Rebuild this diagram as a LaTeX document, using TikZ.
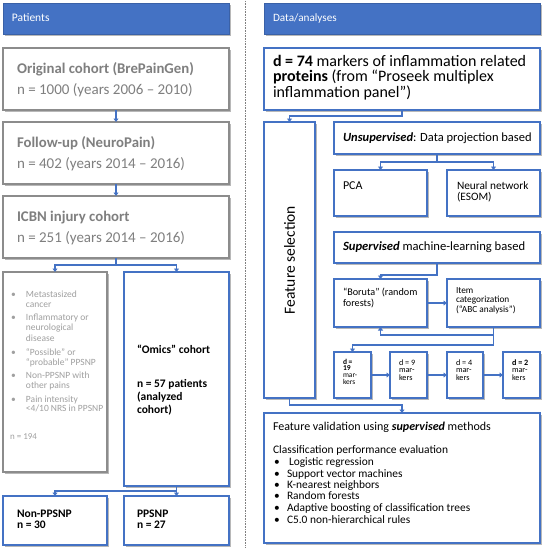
\documentclass[tikz,border=0pt]{standalone}
\usepackage{fontspec}
\setmainfont{Carlito}
\usetikzlibrary{arrows.meta,shadows,calc}
\definecolor{bl}{HTML}{4472C4}
\definecolor{gbord}{HTML}{8C8C8C}
\definecolor{gtxt}{HTML}{7F7F7F}
\definecolor{ltxt}{HTML}{A0A0A0}
\newcommand\mkbox[6]{\node[#2, minimum width={(#5-#3)*1pt}, minimum height={(#6-#4)*1pt}] (#1) at ({(#3+#5)/2},{(#4+#6)/2}) {};}
\newcommand\fsz[2]{\fontsize{#1}{#2}\selectfont}
\newcommand\tl[5]{\node[txt,font=#4] (#1) at (#2,#3) {#5};}
\tikzset{
  shbox/.style={fill=white, line width=1.1pt, inner sep=0pt, outer sep=0pt,
    drop shadow={shadow xshift=1.6pt, shadow yshift=-1.6pt, fill=black, opacity=0.28}},
  bbox/.style={shbox, draw=bl},
  gbox/.style={shbox, draw=gbord},
  hdr/.style={shbox, fill=bl, draw=bl!85!black, line width=0.6pt},
  txt/.style={inner sep=0pt, outer sep=0pt, anchor=base west},
  ln/.style={bl, line width=1.1pt},
  arr/.style={ln, -{Triangle[width=5pt,length=3.5pt]}},
  ttl/.style={font=\fsz{14.8}{17}\bfseries\color{gtxt}},
  ttn/.style={font=\fsz{15}{17}\color{gtxt}},
  exl/.style={font=\fsz{9.5}{10}\color{ltxt}},
  omx/.style={font=\fsz{11.5}{13}\bfseries},
  fvb/.style={font=\fsz{11.4}{13}},
  dsm/.style={font=\fsz{7.5}{7}},
  dmd/.style={font=\fsz{8.2}{8}},
  itx/.style={font=\fsz{9.3}{10}},
}
\begin{document}
\begin{tikzpicture}[x=1pt,y=-1pt]
\useasboundingbox (0,0) rectangle (545,550);
\draw[densely dotted, gray, line width=0.6pt] (245,1) -- (245,547);
% headers
\mkbox{hdrL}{hdr}{3}{3}{229}{34}
\mkbox{hdrR}{hdr}{264}{3}{540}{34}
\tl{hP}{12}{21}{\fsz{11.5}{13}\color{white}}{Patients}
\tl{hD}{273}{21}{\fsz{11.2}{13}\color{white}}{Data/analyses}
% left boxes
\mkbox{orig}{gbox}{3}{48}{229}{110}
\mkbox{follow}{gbox}{3}{122}{229}{184}
\mkbox{icbn}{gbox}{3}{196}{229}{258}
\mkbox{excl}{gbox}{3}{272}{107}{472}
\mkbox{omics}{bbox}{124}{272}{229}{486}
\mkbox{nonp}{bbox}{3}{496}{107}{545}
\mkbox{pps}{bbox}{124}{496}{229}{545}
% right boxes
\mkbox{d74}{bbox}{264}{48}{540}{110}
\mkbox{fs}{bbox}{264}{122}{315}{398}
\mkbox{unsup}{bbox}{334}{122}{540}{154}
\mkbox{pca}{bbox}{334}{170}{427}{216}
\mkbox{nn}{bbox}{447}{170}{540}{216}
\mkbox{sup}{bbox}{334}{232}{540}{263}
\mkbox{bor}{bbox}{334}{279}{427}{327}
\mkbox{item}{bbox}{447}{279}{540}{327}
\mkbox{d19}{bbox}{334}{352}{371}{398}
\mkbox{d9}{bbox}{390}{352}{427}{398}
\mkbox{d4}{bbox}{447}{352}{483}{398}
\mkbox{d2}{bbox}{503}{352}{540}{398}
\mkbox{fv}{bbox}{264}{413}{540}{543}
% left texts
\node[txt,ttl] (o1) at (17,73) {Original cohort (BrePainGen)};
\node[txt,ttn] (o2) at (17,94) {n = 1000 (years 2006 – 2010)};
\node[txt,ttl] (f1) at (17,147) {Follow-up (NeuroPain)};
\node[txt,ttn] (f2) at (17,168) {n = 402 (years 2014 – 2016)};
\node[txt,ttl] (i1) at (17,221) {ICBN injury cohort};
\node[txt,ttn] (i2) at (17,242) {n = 251 (years 2014 – 2016)};
% exclusion list
\node[txt,exl] (eb1) at (11,297) {•};
\node[txt,exl] (e1) at (26,297) {Metastasized};
\node[txt,exl] (e2) at (26,307) {cancer};
\node[txt,exl] (eb2) at (11,320) {•};
\node[txt,exl] (e3) at (26,320) {Inflammatory or};
\node[txt,exl] (e4) at (26,330) {neurological};
\node[txt,exl] (e5) at (26,341) {disease};
\node[txt,exl] (eb3) at (11,355) {•};
\node[txt,exl] (e6) at (26,355) {“Possible” or};
\node[txt,exl] (e7) at (26,365) {“probable” PPSNP};
\node[txt,exl] (eb4) at (11,378) {•};
\node[txt,exl] (e8) at (26,378) {Non-PPSNP with};
\node[txt,exl] (e9) at (26,388) {other pains};
\node[txt,exl] (eb5) at (11,402) {•};
\node[txt,exl] (e10) at (26,402) {Pain intensity};
\node[txt,exl] (e11) at (26,411) {<4/10 NRS in PPSNP};
\node[txt,font=\fsz{9}{10}\color{ltxt}] (e12) at (10,439) {n = 194};
% omics
\node[txt,omx] (m1) at (137,353) {“Omics” cohort};
\node[txt,omx] (m2) at (137,387) {n = 57 patients};
\node[txt,omx] (m3) at (137,400) {(analyzed};
\node[txt,omx] (m4) at (137,413) {cohort)};
\node[txt,omx] (np1) at (17,517) {Non-PPSNP};
\node[txt,omx] (np2) at (17,528) {n = 30};
\node[txt,omx] (pp1) at (137,517) {PPSNP};
\node[txt,omx] (pp2) at (137,528) {n = 27};
% right texts
\tl{a1}{273}{66.5}{\fsz{16}{18}}{\textbf{d = 74} markers of inflammation related}
\tl{a2}{273}{81.5}{\fsz{16}{18}}{\textbf{proteins} (from “Proseek multiplex}
\tl{a3}{273}{97}{\fsz{16}{18}}{inflammation panel”)}
\tl{u1}{343}{141}{\fsz{12.5}{14}}{\textbf{\textit{Unsupervised}}: Data projection based}
\tl{pc}{343}{189}{\fsz{12}{13}}{PCA}
\tl{n1}{457}{189}{\fsz{11.3}{12}}{Neural network}
\tl{n2}{457}{200}{\fsz{11.3}{12}}{(ESOM)}
\tl{s1}{343}{250}{\fsz{12.6}{14}}{\textbf{\textit{Supervised}} machine-learning based}
\tl{b1}{343}{295}{\fsz{10.2}{11}}{“Boruta” (random}
\tl{b2}{343}{306}{\fsz{10.2}{11}}{forests)}
\node[txt,itx] (it1) at (456,293.5) {Item};
\node[txt,itx] (it2) at (456,302.5) {categorization};
\node[txt,itx] (it3) at (456,312.5) {(“ABC analysis”)};
\node[txt,dsm] (k1) at (343,364) {\bfseries d =};
\node[txt,dsm] (k2) at (343,370.5) {\bfseries 19};
\node[txt,dsm] (k3) at (343,377) {mar-};
\node[txt,dsm] (k4) at (343,384) {kers};
\node[txt,dmd] (g1) at (399,365) {d = 9};
\node[txt,dmd] (g2) at (399,372.5) {mar-};
\node[txt,dmd] (g3) at (399,380) {kers};
\node[txt,dmd] (h1) at (456,365) {d = 4};
\node[txt,dmd] (h2) at (456,372.5) {mar-};
\node[txt,dmd] (h3) at (456,380) {kers};
\node[txt,dmd] (j1) at (512,365) {\bfseries d = 2};
\node[txt,dmd] (j2) at (512,372.5) {mar-};
\node[txt,dmd] (j3) at (512,380) {kers};
\node[rotate=90, font=\fsz{15.5}{17}, inner sep=0pt] (fst) at (fs.center) {Feature selection};
\tl{v1}{273}{430}{\fsz{12}{14}}{Feature validation using \textbf{\textit{supervised}} methods}
\tl{v2}{273}{453}{\fsz{11.5}{13}}{Classification performance evaluation}
\node[txt,fvb] (vb1) at (274,465) {•};
\node[txt,fvb] (vb2) at (274,477) {•};
\node[txt,fvb] (vb3) at (274,488) {•};
\node[txt,fvb] (vb4) at (274,499) {•};
\node[txt,fvb] (vb5) at (274,511) {•};
\node[txt,fvb] (vb6) at (274,523) {•};
\node[txt,fvb] (w1) at (289,465) {Logistic regression};
\node[txt,fvb] (w2) at (287,477) {Support vector machines};
\node[txt,fvb] (w3) at (287,488) {K-nearest neighbors};
\node[txt,fvb] (w4) at (287,499) {Random forests};
\node[txt,fvb] (w5) at (287,511) {Adaptive boosting of classification trees};
\node[txt,fvb] (w6) at (287,523) {C5.0 non-hierarchical rules};
% connectors left
\draw[arr] (orig.south) -- (follow.north);
\draw[arr] (follow.south) -- (icbn.north);
\coordinate (cj1) at ($(icbn.south)+(0,7)$);
\draw[ln] (icbn.south) -- (cj1);
\draw[arr] (cj1) -| (excl.north);
\draw[arr] (cj1) -| (omics.north);
\coordinate (cj2) at ($(omics.south)!0.5!(pps.north)$);
\draw[arr] (omics.south) -- (pps.north);
\draw[arr] (cj2) -| (nonp.north);
% connectors right
\draw[arr] (d74.south) -- ++(0,6) -| (fs.north);
\coordinate (cj3) at ($(unsup.south)+(0,8)$);
\draw[ln] (unsup.south) -- (cj3);
\draw[arr] (cj3) -| (pca.north);
\draw[arr] (cj3) -| (nn.north);
\draw[arr] (sup.south) -- ++(0,12) -| (bor.north);
\draw[arr] (bor.east) -- (item.west);
\coordinate (cj4) at ($(item.south)+(0,8)$);
\draw[ln] (item.south) -- (cj4);
\draw[arr] (cj4) -| (bor.south);
\draw[arr] (cj4) -- ++(0,10) -| (d19.north);
\draw[arr] (d19.east) -- (d9.west);
\draw[arr] (d9.east) -- (d4.west);
\draw[arr] (d4.east) -- (d2.west);
\draw[arr] (fs.south) -- ++(0,7) -| (fv.north);
\end{tikzpicture}
\end{document}
